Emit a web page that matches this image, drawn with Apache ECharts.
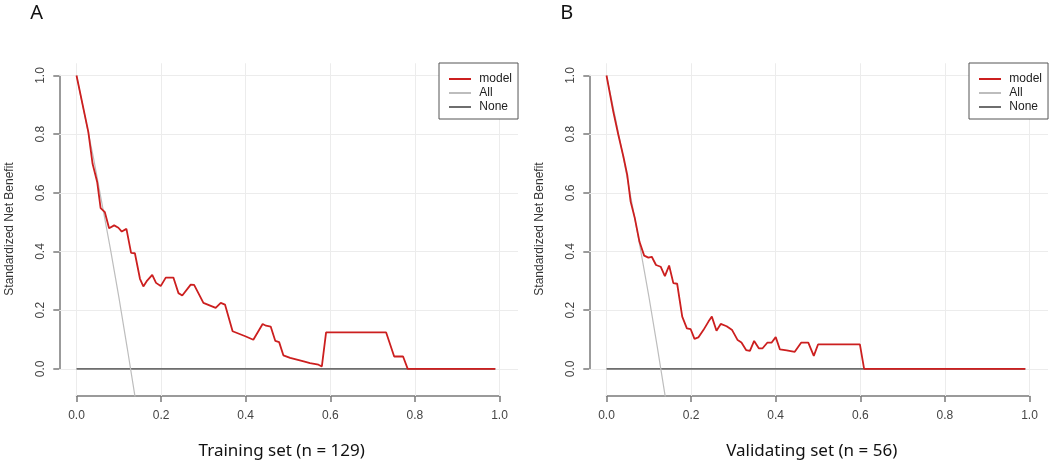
<!DOCTYPE html>
<html>
<head>
<meta charset="utf-8">
<script src="https://cdn.jsdelivr.net/npm/echarts@6/dist/echarts.min.js"></script>
<style>
html,body{margin:0;padding:0;background:#fff;}
#chart{width:1052px;height:464px;}
</style>
</head>
<body>
<div id="chart"></div>
<script>
// ---------- data ----------
const tickValues = [0, 0.2, 0.4, 0.6, 0.8, 1.0];
const legendNames = ['model', 'All', 'None'];
const panelLabels = ['A', 'B'];
const panelTitles = ['Training set (n = 129)', 'Validating set (n = 56)'];
const yAxisTitle = 'Standardized Net Benefit';

const trainThreshold = [0, 0.028, 0.038, 0.049, 0.057, 0.067, 0.077, 0.089, 0.099, 0.107, 0.118, 0.129, 0.138, 0.150, 0.158, 0.167, 0.179, 0.188, 0.199, 0.211, 0.229, 0.241, 0.250, 0.270, 0.278, 0.300, 0.329, 0.341, 0.351, 0.369, 0.399, 0.418, 0.440, 0.448, 0.459, 0.470, 0.479, 0.489, 0.505, 0.521, 0.537, 0.552, 0.572, 0.580, 0.590, 0.732, 0.751, 0.772, 0.783, 0.99];
const trainModel = [1.0, 0.807, 0.699, 0.636, 0.548, 0.534, 0.479, 0.489, 0.481, 0.468, 0.477, 0.395, 0.394, 0.307, 0.281, 0.301, 0.320, 0.293, 0.282, 0.311, 0.311, 0.258, 0.250, 0.287, 0.286, 0.225, 0.208, 0.225, 0.219, 0.128, 0.111, 0.099, 0.153, 0.147, 0.144, 0.095, 0.091, 0.046, 0.037, 0.031, 0.025, 0.019, 0.014, 0.008, 0.124, 0.124, 0.042, 0.042, 0.0, 0.0];
const trainAllThreshold = [0, 0.02, 0.04, 0.06, 0.08, 0.10, 0.12, 0.14];
const trainAll = [1.0, 0.86, 0.72, 0.565, 0.41, 0.245, 0.07, -0.11];

const validThreshold = [0, 0.016, 0.028, 0.040, 0.049, 0.057, 0.067, 0.078, 0.089, 0.099, 0.107, 0.117, 0.128, 0.138, 0.148, 0.158, 0.167, 0.179, 0.190, 0.199, 0.208, 0.217, 0.229, 0.241, 0.249, 0.260, 0.270, 0.284, 0.297, 0.310, 0.319, 0.330, 0.339, 0.349, 0.360, 0.369, 0.380, 0.390, 0.400, 0.410, 0.426, 0.445, 0.460, 0.477, 0.490, 0.500, 0.599, 0.609, 0.99];
const validModel = [1.0, 0.877, 0.797, 0.723, 0.661, 0.570, 0.513, 0.433, 0.386, 0.379, 0.382, 0.354, 0.348, 0.316, 0.352, 0.292, 0.290, 0.178, 0.138, 0.135, 0.102, 0.107, 0.132, 0.161, 0.178, 0.130, 0.153, 0.145, 0.132, 0.098, 0.090, 0.064, 0.061, 0.095, 0.070, 0.070, 0.089, 0.089, 0.108, 0.066, 0.063, 0.058, 0.089, 0.089, 0.044, 0.083, 0.083, 0.0, 0.0];
const validAllThreshold = [0, 0.02, 0.04, 0.06, 0.08, 0.10, 0.12, 0.14];
const validAll = [1.0, 0.862, 0.718, 0.566, 0.41, 0.248, 0.075, -0.105];

const noneThreshold = [0, 0.99];
const noneValue = [0, 0];

// ---------- layout / style ----------
const W = 1052, H = 464;
const shiftB = 530;
const outer = { left: 59.3, top: 63.3, width: 458.7, height: 332.7 };
const inner = { left: 76.5, top: 75.5, width: 423, height: 293.3 };
const xRange = [-0.0407, 1.0437];
const yRange = [-0.0927, 1.0416];
const axisColor = '#7a7a7a';
const labelFont = 'Liberation Sans';
const colors = { model: '#cc1f1f', All: '#bdbdbd', None: '#6e6e6e' };

function pairs(xs, ys) { return xs.map((x, i) => [x, ys[i]]); }
const fmt = v => v.toFixed(1);

const panels = [
  { model: pairs(trainThreshold, trainModel), all: pairs(trainAllThreshold, trainAll) },
  { model: pairs(validThreshold, validModel), all: pairs(validAllThreshold, validAll) }
];

const grid = [], xAxis = [], yAxis = [], series = [], legend = [], graphic = [];

panels.forEach((p, k) => {
  const dx = k * shiftB;
  const go = grid.length;
  grid.push({ left: outer.left + dx, top: outer.top, width: outer.width, height: outer.height, containLabel: false });
  grid.push({ left: inner.left + dx, top: inner.top, width: inner.width, height: inner.height, containLabel: false });

  // outer (data) axes
  xAxis.push({ type: 'value', gridIndex: go, min: xRange[0], max: xRange[1], show: false, splitLine: { show: false } });
  yAxis.push({ type: 'value', gridIndex: go, min: yRange[0], max: yRange[1], show: false, splitLine: { show: false } });
  // inner (drawn R-style) axes
  const axCommon = {
    type: 'value', min: 0, max: 1, interval: 0.2,
    axisLine: { show: true, onZero: false, lineStyle: { color: axisColor, width: 1.5 } },
    axisTick: { show: true, inside: false, length: 6, lineStyle: { color: axisColor, width: 1.5 } },
    splitLine: { show: false },
    axisLabel: { formatter: fmt, color: '#444', fontFamily: labelFont, fontSize: 12, margin: 14 }
  };
  xAxis.push(Object.assign({}, axCommon, { gridIndex: go + 1, position: 'bottom', offset: 27.2 }));
  yAxis.push(Object.assign({}, axCommon, { gridIndex: go + 1, position: 'left', offset: 17.2,
    axisLabel: Object.assign({}, axCommon.axisLabel, { rotate: 90, margin: 13 }) }));

  // grid lines via markLine on the outer grid
  series.push({
    type: 'line', xAxisIndex: go, yAxisIndex: go, data: [], silent: true, z: 1,
    markLine: {
      silent: true, symbol: 'none', label: { show: false }, animation: false, z: 1,
      lineStyle: { color: '#ececec', width: 1, type: 'solid' },
      data: tickValues.map(v => ({ xAxis: v })).concat(tickValues.map(v => ({ yAxis: v })))
    }
  });
  const lineCommon = { type: 'line', xAxisIndex: go, yAxisIndex: go, showSymbol: false, symbol: 'none', animation: false, clip: true };
  series.push(Object.assign({}, lineCommon, { name: 'None', data: pairs(noneThreshold, noneValue), z: 3,
    lineStyle: { color: colors.None, width: 1.8 }, itemStyle: { color: colors.None } }));
  series.push(Object.assign({}, lineCommon, { name: 'All', data: p.all, z: 4,
    lineStyle: { color: colors.All, width: 1.2 }, itemStyle: { color: colors.All } }));
  series.push(Object.assign({}, lineCommon, { name: 'model', data: p.model, z: 5,
    lineStyle: { color: colors.model, width: 1.8 }, itemStyle: { color: colors.model } }));

  legend.push({
    data: legendNames, orient: 'vertical', left: 439 + dx, top: 63, z: 20,
    selectedMode: false, icon: 'rect', itemWidth: 22, itemHeight: 2, itemGap: 0,
    borderColor: '#555', borderWidth: 1, borderRadius: 0,
    padding: [9, 6, 5, 10], backgroundColor: '#fff',
    formatter: name => ' ' + name,
    textStyle: { fontFamily: labelFont, fontSize: 12, color: '#222', lineHeight: 14 }
  });

  graphic.push({ type: 'text', x: 36.7 + dx, y: 13, style: { text: panelLabels[k], font: '20px "Noto Sans"', fill: '#111', textAlign: 'center', textVerticalAlign: 'middle' } });
  graphic.push({ type: 'text', x: 10 + dx, y: 229, rotation: Math.PI / 2, style: { text: yAxisTitle, font: '12px "Liberation Sans"', fill: '#333', textAlign: 'center', textVerticalAlign: 'middle' } });
  graphic.push({ type: 'text', x: 281.7 + dx, y: 451, style: { text: panelTitles[k], font: '17px "Noto Sans"', fill: '#111', textAlign: 'center', textVerticalAlign: 'middle' } });
});

const chart = echarts.init(document.getElementById('chart'), null, { renderer: 'canvas', width: W, height: H });
chart.setOption({ animation: false, backgroundColor: '#fff', grid, xAxis, yAxis, series, legend, graphic });
</script>
</body>
</html>
